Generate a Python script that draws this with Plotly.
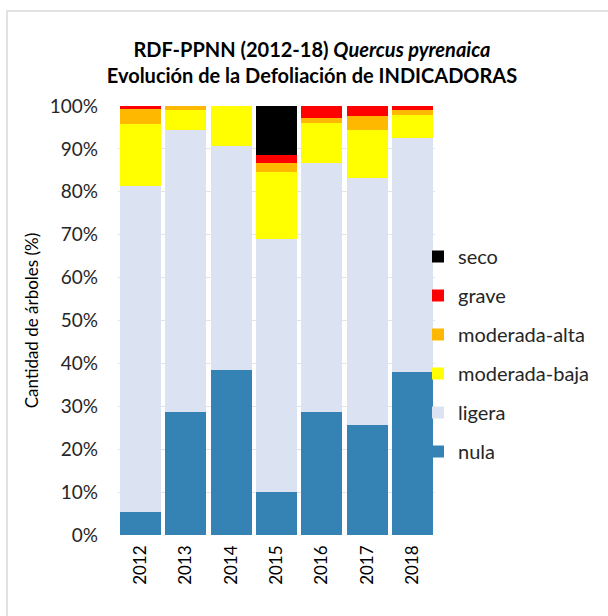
import plotly.graph_objects as go

years = ["2012", "2013", "2014", "2015", "2016", "2017", "2018"]

# Percentage of trees in each defoliation class per year
nula = [5.4, 28.6, 38.5, 10.0, 28.6, 25.7, 38.0]
ligera = [76.0, 65.9, 52.1, 59.0, 58.1, 57.6, 54.5]
moderada_baja = [14.5, 4.6, 9.4, 15.7, 9.3, 11.2, 5.4]
moderada_alta = [3.3, 0.9, 0.0, 2.0, 1.1, 3.1, 1.1]
grave = [0.8, 0.0, 0.0, 1.9, 2.9, 2.4, 1.0]
seco = [0.0, 0.0, 0.0, 11.4, 0.0, 0.0, 0.0]

y_ticks = [0, 10, 20, 30, 40, 50, 60, 70, 80, 90, 100]
y_tick_text = [f"{v}%" for v in y_ticks]

series = [
    ("nula", nula, "#3582b5"),
    ("ligera", ligera, "#dbe2f1"),
    ("moderada-baja", moderada_baja, "#ffff00"),
    ("moderada-alta", moderada_alta, "#ffb800"),
    ("grave", grave, "#ff0000"),
    ("seco", seco, "#000000"),
]

FONT = "Lato"
W, H = 608, 616
ML, MR, MT, MB = 118, 173, 106, 81

fig = go.Figure()
n = len(series)
for i, (name, vals, color) in enumerate(series):
    fig.add_trace(go.Bar(
        x=years, y=vals, name=name, legendgroup=name,
        legendrank=n - i,
        marker=dict(color=color, line=dict(width=0)),
        hoverinfo="x+y+name",
    ))

pw = W - ML - MR
ph = H - MT - MB

def px_x(p):
    return (p - ML) / pw

def px_y(p):
    return (H - MB - p) / ph

fig.update_layout(
    width=W, height=H,
    margin=dict(l=ML, r=MR, t=MT, b=MB),
    barmode="stack",
    bargap=0.095,
    paper_bgcolor="white",
    plot_bgcolor="white",
    font=dict(family=FONT, color="#262626", size=17),
    title=dict(
        text="<b>RDF-PPNN (2012-18) <i>Quercus pyrenaica</i><br>Evolución de la Defoliación de INDICADORAS</b>",
        x=px_x(312), xanchor="center", xref="paper",
        y=1 - 56.5 / H, yanchor="middle", yref="container",
        font=dict(family=FONT, size=20, color="#000000"),
    ),
    xaxis=dict(
        type="category",
        tickangle=-90,
        showgrid=False,
        showline=False,
        ticks="",
        ticklabelstandoff=6,
        tickfont=dict(size=17, color="#000000"),
    ),
    yaxis=dict(
        range=[0, 100],
        tickvals=y_ticks,
        ticktext=y_tick_text,
        showgrid=True,
        gridcolor="#e4e4e4",
        gridwidth=1,
        zeroline=False,
        showline=False,
        ticks="",
        ticklabelstandoff=19,
        tickfont=dict(size=19, color="#262626"),
        title=dict(text="Cantidad de árboles (%)", font=dict(size=17, color="#000000"), standoff=6),
    ),
    legend=dict(
        x=px_x(418), xanchor="left",
        y=px_y(237), yanchor="top",
        traceorder="grouped",
        tracegroupgap=10,
        itemwidth=30,
        font=dict(size=20, color="#262626"),
        bgcolor="rgba(0,0,0,0)",
    ),
    shapes=[dict(
        type="rect", xref="paper", yref="paper",
        x0=px_x(7), x1=px_x(W + 5),
        y0=px_y(H + 5), y1=px_y(11),
        line=dict(color="#d9d9d9", width=1.5),
        fillcolor="rgba(0,0,0,0)",
        layer="below",
    )],
)

fig.write_html("out.html")
